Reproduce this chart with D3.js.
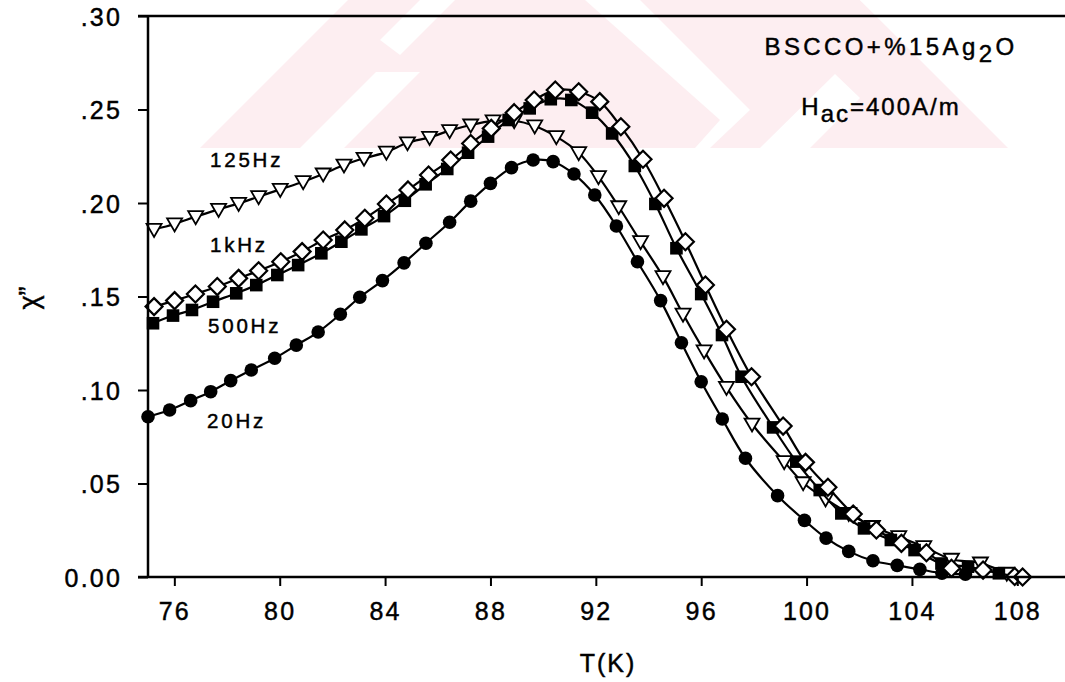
<!DOCTYPE html>
<html>
<head>
<meta charset="utf-8">
<script src="https://cdn.jsdelivr.net/npm/d3@7"></script>
<style>
  body { margin: 0; background: #fff; }
  svg { display: block; font-family: "Liberation Sans", Arial, sans-serif; }
  text { fill: #000; stroke: #000; stroke-width: 0.45px; }
</style>
</head>
<body>
<svg id="chart" width="1065" height="682"></svg>
<script>
'use strict';
// chi'' vs T
const t20 = [75.0, 75.82, 76.62, 77.38, 78.14, 78.92, 79.81, 80.63, 81.46, 82.3, 83.04, 83.9, 84.72, 85.55, 86.45, 87.25, 88.0, 88.8, 89.62, 90.38, 91.17, 91.96, 92.78, 93.58, 94.46, 95.25, 96.0, 96.8, 97.68, 98.9, 99.92, 100.74, 101.6, 102.52, 103.44, 104.3, 105.14, 106.03];
const chi20 = [.0857, .0893, .0943, .0991, .105, .1107, .117, .124, .131, .1405, .1496, .1585, .168, .1785, .1897, .201, .2105, .2189, .223, .2221, .2155, .2043, .1877, .1686, .1478, .1253, .1044, .0845, .0635, .0435, .0303, .0208, .0137, .0087, .0062, .0041, .002, .0015];

const t125 = [75.23, 76.01, 76.81, 77.68, 78.44, 79.2, 80.02, 80.89, 81.65, 82.44, 83.2, 84.05, 84.85, 85.69, 86.45, 87.25, 88.1, 88.9, 89.68, 90.5, 91.35, 92.1, 92.87, 93.7, 94.55, 95.31, 96.11, 96.96, 97.93, 99.15, 99.87, 100.72, 101.6, 102.5, 103.5, 104.45, 105.5, 106.6, 107.6];
const chi125 = [.1859, .1888, .1927, .1966, .1998, .2034, .2073, .2114, .2155, .2203, .2239, .2272, .2322, .2351, .2387, .2417, .2439, .244, .2412, .2355, .2269, .2141, .198, .1793, .1606, .1406, .1209, .1014, .0818, .0617, .0504, .0417, .034, .027, .0216, .0162, .0095, .0075, .002];

const t500 = [75.19, 75.95, 76.67, 77.47, 78.35, 79.11, 79.91, 80.7, 81.58, 82.34, 83.1, 83.96, 84.75, 85.54, 86.36, 87.15, 87.91, 88.69, 89.49, 90.29, 91.07, 91.86, 92.62, 93.48, 94.26, 95.06, 96.0, 96.79, 97.53, 98.73, 99.61, 100.5, 101.32, 102.18, 103.2, 104.1, 105.12, 106.13, 107.3];
const chi500 = [.1357, .1398, .1428, .1472, .1517, .1561, .1615, .1668, .1731, .1793, .1859, .193, .2012, .21, .2182, .2269, .2355, .2444, .2506, .2555, .2551, .2483, .2372, .2198, .1995, .1758, .1513, .1294, .1071, .08, .0617, .0465, .034, .026, .0198, .0144, .0072, .0055, .002];

const t1k = [75.23, 76.01, 76.8, 77.63, 78.44, 79.2, 80.04, 80.85, 81.65, 82.47, 83.23, 84.05, 84.87, 85.65, 86.49, 87.25, 88.03, 88.9, 89.66, 90.46, 91.35, 92.15, 92.95, 93.79, 94.59, 95.4, 96.16, 96.96, 97.91, 99.11, 99.96, 100.81, 101.77, 102.65, 103.6, 104.55, 105.5, 106.7, 107.9, 108.2];
const chi1k = [.1446, .1478, .1513, .1553, .1597, .1638, .1686, .174, .1802, .1856, .1918, .1995, .207, .215, .223, .2318, .2399, .2483, .2551, .2604, .2595, .2542, .2408, .2234, .2025, .1793, .1561, .1325, .1071, .0807, .0613, .048, .0337, .0251, .018, .013, .0047, .0037, .0003, 0];

const xTicks = [76, 80, 84, 88, 92, 96, 100, 104, 108];
const yTicks = [0, .05, .10, .15, .20, .25, .30];

const seriesNames = ["20Hz", "125Hz", "500Hz", "1kHz"];

const svg = d3.select("#chart");
const x = d3.scaleLinear().domain([75, 110]).range([148, 1070]);
const y = d3.scaleLinear().domain([0, 0.3]).range([577, 16]);

// faint pink watermark at the top
const wm = svg.append("g").attr("fill", "#fdeef1");
wm.append("path").attr("d", "M200,148 L348,0 L860,0 L1008,148 Z");
const wmWhite = svg.append("g").attr("fill", "#fff");
wmWhite.append("path").attr("d", "M300,148 L376,72 L420,72 L344,148 Z");
wmWhite.append("path").attr("d", "M585,0 L640,0 L750,110 L710,148 L695,148 L720,120 Z");
wmWhite.append("path").attr("d", "M420,0 L455,0 L400,55 L380,40 Z");
wmWhite.append("path").attr("d", "M860,0 L900,0 L1050,148 L1010,148 Z");
wmWhite.append("path").attr("d", "M760,148 L835,74 L860,98 L810,148 Z");

const mk = [t20, t125, t500, t1k].map(function (ts, i) {
  const vs = [chi20, chi125, chi500, chi1k][i];
  return ts.map(function (t, j) { return { t: t, v: vs[j] }; });
});

const line = d3.line()
  .x(d => x(d.t))
  .y(d => y(d.v))
  .curve(d3.curveCatmullRom.alpha(0.5));

const plot = svg.append("g");

function drawSeries(data, shape) {
  plot.append("path")
    .datum(data)
    .attr("d", line)
    .attr("fill", "none")
    .attr("stroke", "#000")
    .attr("stroke-width", 2.2);
  const g = plot.append("g");
  data.forEach(function (d) {
    const cx = x(d.t), cy = y(d.v);
    if (shape === "circle") {
      g.append("circle").attr("cx", cx).attr("cy", cy).attr("r", 6.8).attr("fill", "#000");
    } else if (shape === "square") {
      g.append("rect").attr("x", cx - 6.3).attr("y", cy - 6.3).attr("width", 12.6).attr("height", 12.6).attr("fill", "#000");
    } else if (shape === "triangle") {
      g.append("path")
        .attr("d", "M" + (cx - 7.5) + "," + (cy - 5.5) + "L" + (cx + 7.5) + "," + (cy - 5.5) + "L" + cx + "," + (cy + 7.5) + "Z")
        .attr("fill", "#fff").attr("stroke", "#000").attr("stroke-width", 1.8);
    } else {
      g.append("path")
        .attr("d", "M" + cx + "," + (cy - 8.5) + "L" + (cx + 8.5) + "," + cy + "L" + cx + "," + (cy + 8.5) + "L" + (cx - 8.5) + "," + cy + "Z")
        .attr("fill", "#fff").attr("stroke", "#000").attr("stroke-width", 2.2);
    }
  });
}
drawSeries(mk[0], "circle");
drawSeries(mk[1], "triangle");
drawSeries(mk[2], "square");
drawSeries(mk[3], "diamond");

// axes
const yAxis = d3.axisLeft(y).tickValues(yTicks).tickSize(10).tickPadding(16)
  .tickFormat(d => d === 0 ? "0.00" : d3.format(".2f")(d).replace(/^0/, ""));
const gy = svg.append("g").attr("transform", "translate(148,0)").call(yAxis);
const xAxis = d3.axisBottom(x).tickValues(xTicks).tickSize(9).tickPadding(16);
const gx = svg.append("g").attr("transform", "translate(0,577)").call(xAxis);
[gx, gy].forEach(function (g) {
  g.select(".domain").remove();
  g.selectAll(".tick line").attr("stroke", "#000").attr("stroke-width", 2);
  g.selectAll(".tick text")
    .attr("fill", "#000")
    .style("font-size", "25px")
    .style("letter-spacing", "2.2px")
    .style("font-family", "'Liberation Sans', Arial, sans-serif");
});
gy.selectAll(".tick text").attr("dy", "0.36em");
svg.append("line").attr("x1", 148).attr("x2", 148).attr("y1", 16).attr("y2", 577)
  .attr("stroke", "#000").attr("stroke-width", 2.5);
svg.append("line").attr("x1", 138).attr("x2", 1065).attr("y1", 577).attr("y2", 577)
  .attr("stroke", "#000").attr("stroke-width", 2.5);
svg.append("line").attr("x1", 138).attr("x2", 1065).attr("y1", 16).attr("y2", 16)
  .attr("stroke", "#000").attr("stroke-width", 2.5);

// axis titles
svg.append("text").attr("x", 608).attr("y", 672).attr("text-anchor", "middle")
  .style("font-size", "25px").style("letter-spacing", "2px").text("T(K)");
svg.append("text").attr("transform", "translate(38,298) rotate(-90)").attr("text-anchor", "middle")
  .style("font-size", "27px").text("\u03c7\u201d");

// series labels
const labelPos = [[207, 428], [210, 167], [208, 333], [210, 252]];
seriesNames.forEach(function (name, i) {
  svg.append("text").attr("x", labelPos[i][0]).attr("y", labelPos[i][1])
    .style("font-size", "20.5px").style("letter-spacing", "2.8px").text(name);
});

// annotation
const t1 = svg.append("text").attr("x", 891).attr("y", 55).attr("text-anchor", "middle")
  .style("font-size", "24px").style("letter-spacing", "3.4px");
t1.append("tspan").text("BSCCO+%15Ag");
t1.append("tspan").attr("dy", 7).text("2");
t1.append("tspan").attr("dy", -7).text("O");
const t2 = svg.append("text").attr("x", 881).attr("y", 115).attr("text-anchor", "middle")
  .style("font-size", "24px").style("letter-spacing", "2px");
t2.append("tspan").text("H");
t2.append("tspan").attr("dy", 7).text("ac");
t2.append("tspan").attr("dy", -7).text("=400A/m");
</script>
</body>
</html>
